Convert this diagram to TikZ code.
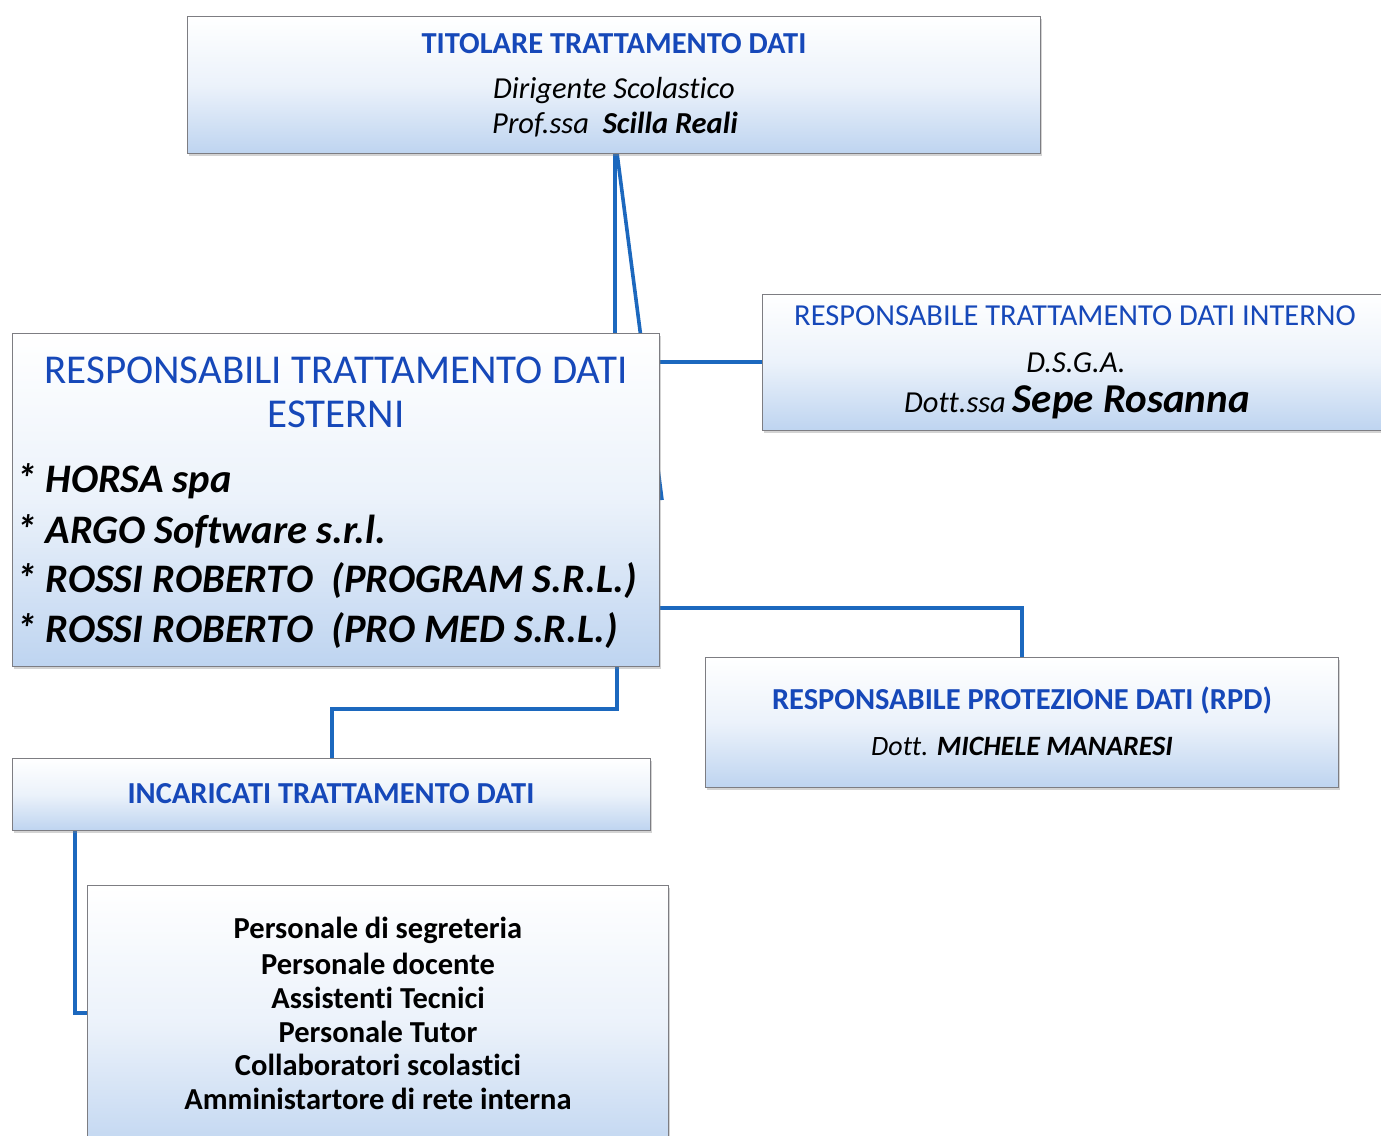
\documentclass[tikz,border=0pt]{standalone}
\usepackage{fontspec}
\setmainfont{Carlito}[Ligatures={NoCommon}]
\usetikzlibrary{shadows,calc}
\definecolor{linkblue}{RGB}{28,104,190}
\definecolor{titleblue}{RGB}{22,72,185}
\definecolor{boxblue}{RGB}{190,212,240}
\definecolor{boxedge}{RGB}{125,125,130}
\tikzset{
  orgbox/.style={draw=boxedge, line width=1pt, top color=white, bottom color=boxblue,
    middle color=white!70!boxblue, inner sep=0pt, anchor=north west,
    drop shadow={shadow xshift=1.5pt, shadow yshift=-2pt, opacity=0.35}},
  link/.style={draw=linkblue, line width=3.6pt},
  txt/.style={inner sep=0pt, anchor=center},
  fs/.style={font=\fontsize{#1}{#1}\selectfont}
}
\begin{document}
\begin{tikzpicture}[x=1pt,y=-1pt]
\useasboundingbox (0,0) rectangle (1381,1135);
\clip (0,0) rectangle (1381,1135);
% connectors (drawn first, boxes cover their ends)
\coordinate (diagend) at (662,500);
\draw[link] (617,153) -- (diagend);
\draw[link] (615,153) -- (615,333);
\draw[link] (659,362) -- (762,362);
\draw[link] (659,608) -- (1022,608) -- (1022,657);
\draw[link] (617,666) -- (617,709) -- (332,709) -- (332,758);
\draw[link] (75,830) -- (75,1013) -- (89,1013);
% boxes
\node[orgbox, minimum width=853pt, minimum height=137pt] (tit) at (187,16) {};
\node[orgbox, minimum width=647pt, minimum height=333pt] (ext) at (12,333) {};
\node[orgbox, minimum width=638pt, minimum height=136pt] (int) at (762,294) {};
\node[orgbox, minimum width=633pt, minimum height=130pt] (rpd) at (705,657) {};
\node[orgbox, minimum width=638pt, minimum height=72pt] (inc) at (12,758) {};
\node[orgbox, minimum width=581pt, minimum height=275pt] (per) at (87,885) {};
% texts: titolare
\node[txt, fs=30.5, text=titleblue] (titT) at (614,44) {\bfseries TITOLARE TRATTAMENTO DATI};
\node[txt, fs=30.5] (titL1) at (614,91) {\itshape Dirigente Scolastico};
\node[txt, fs=30.5] (titL2) at (615,125) {\itshape Prof.ssa\ \ \bfseries Scilla Reali};
% esterni
\node[txt, fs=41, text=titleblue] (extT1) at (336,370) {RESPONSABILI TRATTAMENTO DATI};
\node[txt, fs=41, text=titleblue] (extT2) at (336,414) {ESTERNI};
\node[txt, fs=40.5, anchor=west] (ext1) at (16,481) {\bfseries\itshape * HORSA spa};
\node[txt, fs=40.5, anchor=west] (ext2) at (16,531) {\bfseries\itshape * ARGO Software s.r.l.};
\node[txt, fs=40.5, anchor=west] (ext3) at (16,581) {\bfseries\itshape * ROSSI ROBERTO\ \ (PROGRAM S.R.L.)};
\node[txt, fs=40.5, anchor=west] (ext4) at (16,631) {\bfseries\itshape * ROSSI ROBERTO\ \ (PRO MED S.R.L.)};
% interno
\node[txt, fs=30.5, text=titleblue] (intT) at (1075,316) {RESPONSABILE TRATTAMENTO DATI INTERNO};
\node[txt, fs=30.5] (intL1) at (1076,363) {\itshape D.S.G.A.};
\node[txt, fs=30.5] (intL2) at (1077,402) {\itshape Dott.ssa {\fontsize{41}{41}\selectfont\bfseries Sepe Rosanna}};
% rpd
\node[txt, fs=30.5, text=titleblue] (rpdT) at (1022,700) {\bfseries RESPONSABILE PROTEZIONE DATI (RPD)};
\node[txt, fs=28] (rpdL) at (1022,746) {\itshape Dott. \bfseries MICHELE MANARESI};
% incaricati
\node[txt, fs=30.5, text=titleblue] (incT) at (331,794) {\bfseries INCARICATI TRATTAMENTO DATI};
% personale
\node[txt, fs=30.5] (per1) at (378,930) {\bfseries Personale di segreteria};
\node[txt, fs=30.5] (per2) at (378,964) {\bfseries Personale docente};
\node[txt, fs=30.5] (per3) at (378,998) {\bfseries Assistenti Tecnici};
\node[txt, fs=30.5] (per4) at (378,1032) {\bfseries Personale Tutor};
\node[txt, fs=30.5] (per5) at (378,1065) {\bfseries Collaboratori scolastici};
\node[txt, fs=30.5] (per6) at (378,1099) {\bfseries Amministartore di rete interna};
\end{tikzpicture}
\end{document}
